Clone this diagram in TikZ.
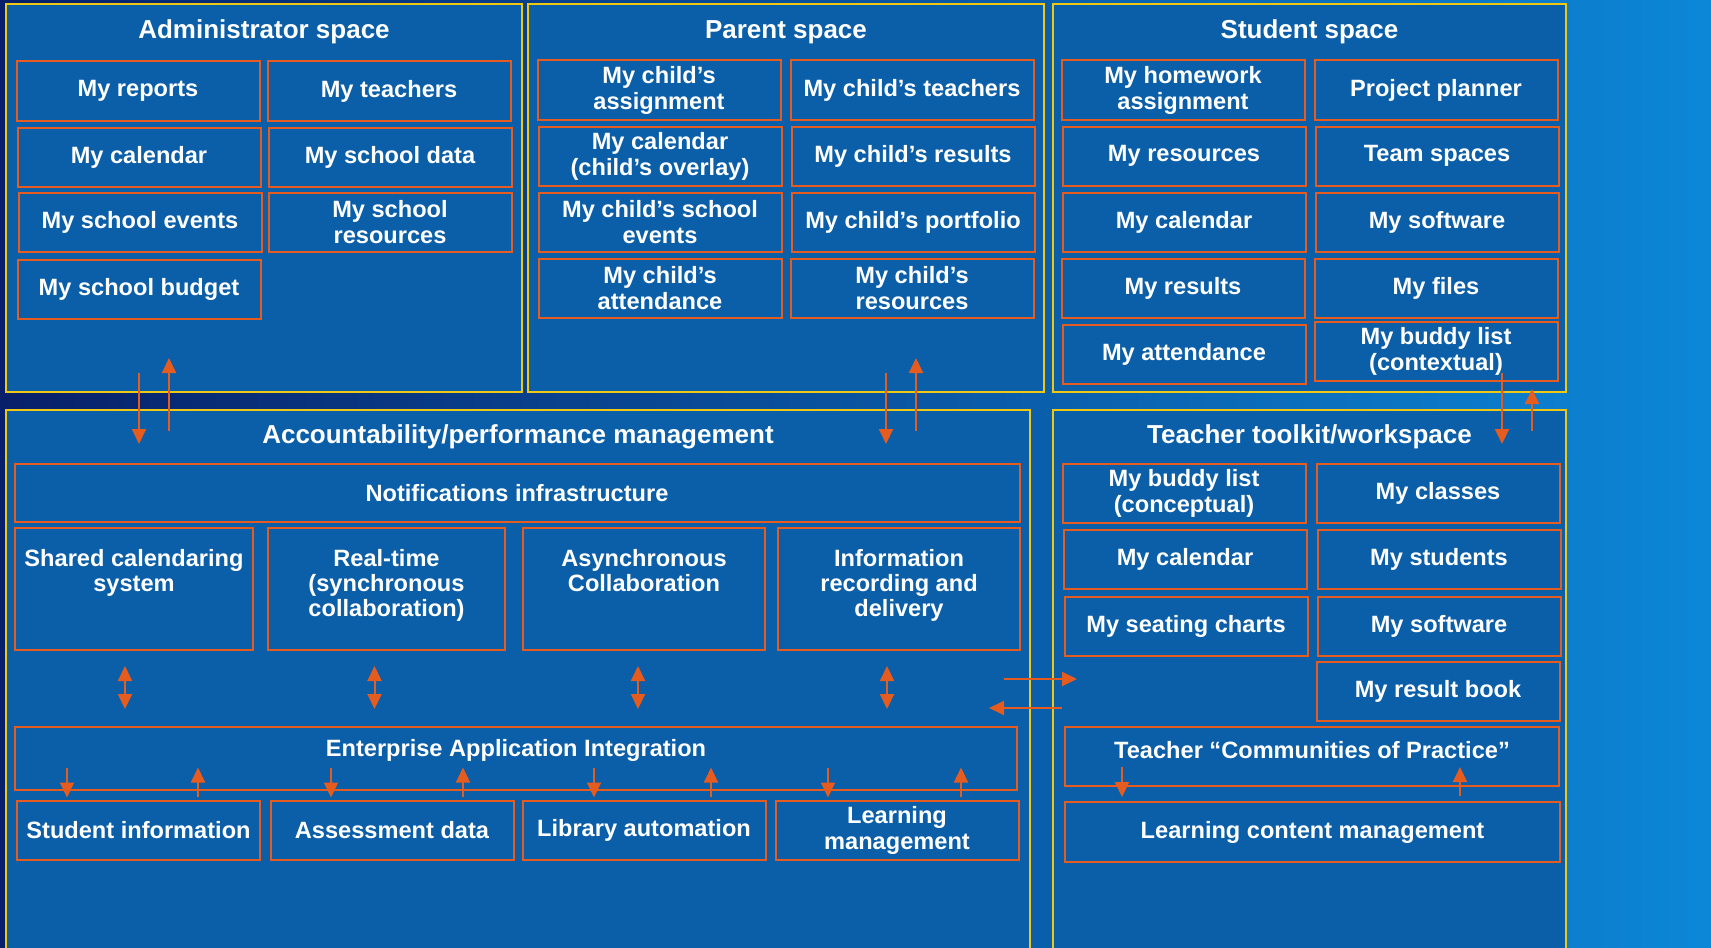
\documentclass[tikz,border=0pt]{standalone}
\usepackage{fontspec}
\setmainfont{Liberation Sans}
\usetikzlibrary{arrows.meta,positioning}

\definecolor{pnl}{RGB}{11,94,168}
\definecolor{org}{RGB}{230,92,30}
\definecolor{ylw}{RGB}{240,200,20}
\definecolor{bgdark}{RGB}{8,32,105}
\definecolor{bglight}{RGB}{12,135,215}

\tikzset{
  panel/.style={draw=ylw, line width=1pt, fill=pnl, inner sep=0pt},
  ptitle/.style={text=white, font=\fontsize{13}{15}\selectfont\bfseries, inner sep=1pt},
  tile/.style={draw=org, line width=1pt, fill=pnl, text=white, align=center, inner sep=1pt,
    font=\fontsize{11.8}{13}\selectfont\bfseries, minimum width=121.5pt, minimum height=29.5pt},
  tiletext/.style={text=white, align=center, inner sep=1pt, font=\fontsize{11.8}{12.5}\selectfont\bfseries},
  arr/.style={draw=org, line width=1pt, -{Triangle[width=7pt,length=7.5pt]}},
  dbl/.style={draw=org, line width=1pt, {Triangle[width=7pt,length=7.5pt]}-{Triangle[width=7pt,length=7.5pt]}},
}

\begin{document}
\begin{tikzpicture}[x=0.5pt,y=-0.5pt]
  \useasboundingbox (0,0) rectangle (1711,947);
  \shade[left color=bgdark, right color=bglight] (0,0) rectangle (1711,947);

  % administrator space
  \node[panel, minimum width=258pt, minimum height=194pt] (adm) at (264,198) {};
  \node[ptitle] (admt) at ([yshift=-14.5pt]adm.north) {Administrator space};
  \node[tile] (adrep)  at (138,91)  {My reports};
  \node[tile] (adteach) at (389,91) {My teachers};
  \node[tile] (adcal)  at (139,157) {My calendar};
  \node[tile] (addata) at (390,157) {My school data};
  \node[tile] (adevt)  at (140,222) {My school events};
  \node[tile] (adres)  at (390,222) {My school\\resources};
  \node[tile] (adbud)  at (139,289) {My school budget};

  % parent space
  \node[panel, minimum width=258pt, minimum height=194pt] (par) at (786,198) {};
  \node[ptitle] (part) at ([yshift=-14.5pt]par.north) {Parent space};
  \node[tile] (pcassign) at (659,90)  {My child’s\\assignment};
  \node[tile] (pcteach)  at (912,90)  {My child’s teachers};
  \node[tile] (pccal)    at (660,156) {My calendar\\(child’s overlay)};
  \node[tile] (pcres)    at (913,156) {My child’s results};
  \node[tile] (pcevt)    at (660,222) {My child’s school\\events};
  \node[tile] (pcport)   at (913,222) {My child’s portfolio};
  \node[tile] (pcatt)    at (660,288) {My child’s\\attendance};
  \node[tile] (pcrsrc)   at (912,288) {My child’s\\resources};

  % student space
  \node[panel, minimum width=256.5pt, minimum height=194pt] (stu) at (1309.5,198) {};
  \node[ptitle] (stut) at ([yshift=-14.5pt]stu.north) {Student space};
  \node[tile] (shw)    at (1183,90)  {My homework\\assignment};
  \node[tile] (splan)  at (1436,90)  {Project planner};
  \node[tile] (sres)   at (1184,156) {My resources};
  \node[tile] (steam)  at (1437,156) {Team spaces};
  \node[tile] (scal)   at (1184,222) {My calendar};
  \node[tile] (ssoft)  at (1437,222) {My software};
  \node[tile] (srslt)  at (1183,288) {My results};
  \node[tile] (sfiles) at (1436,288) {My files};
  \node[tile] (satt)   at (1184,354) {My attendance};
  \node[tile] (sbuddy) at (1436,351) {My buddy list\\(contextual)};

  % accountability/performance management
  \node[panel, minimum width=512pt, minimum height=270pt] (acc) at (518,680) {};
  \node[ptitle] (acct) at ([yshift=-14pt]acc.north) {Accountability/performance management};
  \node[tile, minimum width=502.5pt, minimum height=29pt] (notif) at (517,493) {Notifications infrastructure};
  \node[tile, minimum width=119pt, minimum height=61pt] (shared) at (134,589) {};
  \node[tile, minimum width=118.5pt, minimum height=61pt] (rtime) at (386.5,589) {};
  \node[tile, minimum width=121pt, minimum height=61pt] (async) at (644,589) {};
  \node[tile, minimum width=121pt, minimum height=61pt] (info) at (899,589) {};
  \node[tiletext, anchor=north] (sharedt) at ([yshift=-10pt]shared.north) {Shared calendaring\\system};
  \node[tiletext, anchor=north] (rtimet) at ([yshift=-10pt]rtime.north) {Real-time\\(synchronous\\collaboration)};
  \node[tiletext, anchor=north] (asynct) at ([yshift=-10pt]async.north) {Asynchronous\\Collaboration};
  \node[tiletext, anchor=north] (infot) at ([yshift=-10pt]info.north) {Information\\recording and\\delivery};
  \node[tile, minimum width=501pt, minimum height=31.5pt] (eai) at (516,758) {};
  \node[tiletext] (eait) at ([yshift=4pt]eai.center) {Enterprise Application Integration};
  \node[tile] (stuinfo) at (138.5,830) {Student information};
  \node[tile] (assess)  at (392,830)   {Assessment data};
  \node[tile] (library) at (644,830)   {Library automation};
  \node[tile] (learn)   at (897,830)   {Learning\\management};

  % teacher toolkit/workspace
  \node[panel, minimum width=256.5pt, minimum height=270pt] (tea) at (1309.5,680) {};
  \node[ptitle] (teat) at ([yshift=-14pt]tea.north) {Teacher toolkit/workspace};
  \node[tile] (tbuddy)   at (1184,493) {My buddy list\\(conceptual)};
  \node[tile] (tclasses) at (1438,493) {My classes};
  \node[tile] (tcal)     at (1185,559) {My calendar};
  \node[tile] (tstud)    at (1439,559) {My students};
  \node[tile] (tseat)    at (1186,626) {My seating charts};
  \node[tile] (tsoft)    at (1439,626) {My software};
  \node[tile] (tbook)    at (1438,691) {My result book};
  \node[tile, minimum width=247pt] (tcop) at (1312,756) {};
  \node[tiletext] (tcopt) at ([yshift=3pt]tcop.center) {Teacher “Communities of Practice”};
  \node[tile, minimum width=247.5pt, minimum height=30pt] (tlcm) at (1312.5,832) {Learning content management};

  % spaces <-> lower layers
  \draw[arr] ([shift={(134,-20)}]adm.south west) -- ++(0,71);
  \draw[arr] ([shift={(164,38)}]adm.south west) -- ++(0,-73);
  \draw[arr] ([shift={(359,-20)}]par.south west) -- ++(0,71);
  \draw[arr] ([shift={(389,38)}]par.south west) -- ++(0,-73);
  \draw[arr] ([shift={(450,-20)}]stu.south west) -- ++(0,71);
  \draw[arr] ([shift={(480,38)}]stu.south west) -- ++(0,-42);

  % services <-> integration
  \draw[dbl] ([shift={(-9,15)}]shared.south) -- ++(0,43);
  \draw[dbl] ([shift={(-12,15)}]rtime.south) -- ++(0,43);
  \draw[dbl] ([shift={(-6,15)}]async.south) -- ++(0,43);
  \draw[dbl] ([shift={(-12,15)}]info.south) -- ++(0,43);

  \draw[arr] ([shift={(-71.5,-32)}]stuinfo.north) -- ++(0,30);
  \draw[arr] ([shift={(59.5,-3)}]stuinfo.north) -- ++(0,-29);
  \draw[arr] ([shift={(-61,-32)}]assess.north) -- ++(0,30);
  \draw[arr] ([shift={(71,-3)}]assess.north) -- ++(0,-29);
  \draw[arr] ([shift={(-50,-32)}]library.north) -- ++(0,30);
  \draw[arr] ([shift={(67,-3)}]library.north) -- ++(0,-29);
  \draw[arr] ([shift={(-69,-32)}]learn.north) -- ++(0,30);
  \draw[arr] ([shift={(64,-3)}]learn.north) -- ++(0,-29);

  % teacher side
  \draw[arr] ([shift={(-48,-1)}]tea.west) -- ++(73,0);
  \draw[arr] ([shift={(10,28)}]tea.west) -- ++(-73,0);
  \draw[arr] ([shift={(-190.5,-34)}]tlcm.north) -- ++(0,30);
  \draw[arr] ([shift={(147.5,-5)}]tlcm.north) -- ++(0,-29);
\end{tikzpicture}
\end{document}
